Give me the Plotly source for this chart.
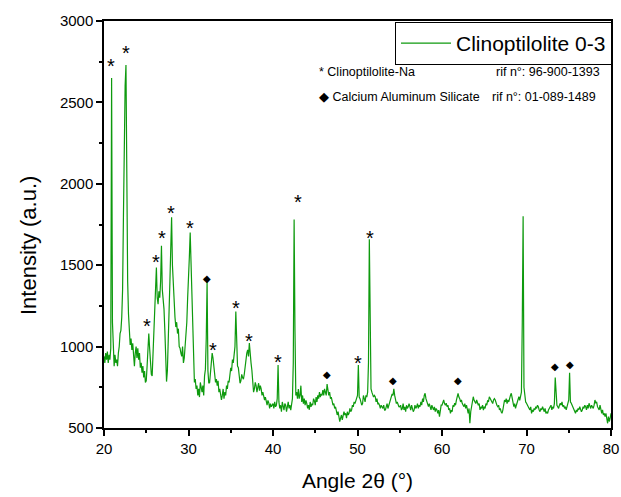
import plotly.graph_objects as go

# ---- data (2θ grid start/step, intensities) ----
angle_start = 20.0
angle_step = 0.1
intensity = [
    # 20.0-20.9
    940, 900, 960, 920, 970, 900, 950, 920, 990, 2650,
    # 21
    1150, 930, 880, 950, 900, 920, 880, 960, 1000, 1080,
    # 22
    1100, 1180, 1350, 1800, 2300, 2600, 2730, 1900, 1400, 1200,
    # 23
    1060, 1010, 1050, 980, 1020, 950, 880, 960, 1000, 930,
    # 24
    990, 920, 960, 870, 900, 840, 880, 810, 850, 780,
    # 25
    790, 880, 980, 1080, 990, 900, 830, 820, 950, 1100,
    # 26
    1200, 1320, 1485, 1300, 1260, 1340, 1300, 1400, 1620, 1350,
    # 27
    1300, 1230, 1100, 950, 785, 850, 1000, 1150, 1400, 1600,
    # 28
    1795, 1500, 1350, 1280, 1180, 1120, 1150, 1080, 1110, 1000,
    # 29
    990, 960, 940, 1000, 900, 930, 990, 1050, 1150, 1300,
    # 30
    1400, 1550, 1700, 1480, 1250, 1050, 820, 780, 800, 740,
    # 31
    760, 700, 740, 690, 780, 750, 720, 760, 700, 820,
    # 32
    860, 1050, 1400, 850, 775, 780, 860, 900, 960, 930,
    # 33
    880, 840, 780, 800, 760, 790, 720, 740, 690, 672,
    # 34
    700, 740, 680, 720, 700, 760, 740, 790, 780, 830,
    # 35
    870, 850, 920, 900, 980, 1000, 1215, 1050, 880, 870,
    # 36
    800, 775, 790, 830, 810, 800, 830, 880, 920, 960,
    # 37
    980, 940, 1022, 980, 900, 855, 780, 720, 740, 780,
    # 38
    760, 720, 750, 775, 730, 760, 740, 700, 720, 680,
    # 39
    672, 690, 660, 640, 670, 655, 620, 650, 630, 640,
    # 40
    650, 620, 660, 630, 640, 680, 887, 660, 620, 640,
    # 41
    600, 660, 630, 610, 650, 640, 600, 630, 660, 620,
    # 42
    640, 610, 650, 680, 900, 1780, 1100, 700, 720, 680,
    # 43
    740, 680, 700, 760, 660, 700, 650, 680, 640, 670,
    # 44
    650, 620, 640, 612, 660, 630, 650, 640, 680, 667,
    # 45
    640, 690, 660, 700, 680, 720, 690, 710, 700, 733,
    # 46
    700, 740, 720, 700, 770, 730, 700, 720, 680, 690,
    # 47
    660, 640, 650, 620, 630, 612, 580, 600, 560, 539,
    # 48
    560, 580, 550, 570, 600, 580, 590, 560, 600, 580,
    # 49
    590, 620, 600, 610, 640, 630, 660, 650, 670, 692,
    # 50
    700, 887, 690, 680, 660, 640, 650, 700, 680, 660,
    # 51
    700, 690, 720, 900, 1660, 950, 740, 720, 700, 690,
    # 52
    700, 692, 660, 680, 650, 652, 640, 620, 640, 631,
    # 53
    620, 640, 610, 611, 630, 650, 620, 640, 660, 680,
    # 54
    690, 710, 700, 740, 700, 680, 650, 660, 640, 631,
    # 55
    630, 640, 610, 620, 650, 611, 630, 600, 640, 620,
    # 56
    630, 650, 631, 610, 640, 620, 600, 611, 640, 620,
    # 57
    630, 650, 620, 640, 631, 660, 640, 680, 660, 700,
    # 58
    713, 680, 660, 640, 631, 650, 620, 611, 640, 620,
    # 59
    611, 630, 600, 620, 611, 590, 610, 570, 600, 640,
    # 60
    640, 660, 672, 650, 640, 652, 631, 640, 611, 620,
    # 61
    590, 610, 600, 640, 630, 652, 640, 670, 690, 713,
    # 62
    690, 680, 660, 672, 650, 640, 631, 650, 620, 640,
    # 63
    610, 590, 620, 530, 600, 640, 660, 692, 670, 660,
    # 64
    650, 672, 660, 640, 650, 611, 630, 620, 640, 610,
    # 65
    631, 620, 650, 640, 670, 660, 692, 680, 670, 660,
    # 66
    650, 672, 680, 672, 650, 640, 631, 640, 611, 620,
    # 67
    600, 590, 610, 640, 672, 660, 680, 650, 672, 660,
    # 68
    690, 700, 713, 680, 660, 631, 650, 620, 640, 660,
    # 69
    680, 692, 670, 700, 720, 1150, 1800, 750, 680, 660,
    # 70
    652, 640, 631, 620, 611, 630, 590, 611, 600, 620,
    # 71
    611, 631, 620, 640, 631, 611, 600, 620, 611, 631,
    # 72
    611, 600, 620, 590, 600, 590, 611, 620, 631, 640,
    # 73
    611, 630, 620, 650, 810, 660, 640, 631, 620, 640,
    # 74
    652, 640, 660, 631, 640, 620, 631, 611, 640, 660,
    # 75
    672, 840, 660, 652, 640, 620, 611, 600, 590, 611,
    # 76
    600, 620, 611, 631, 620, 600, 611, 631, 620, 640,
    # 77
    631, 611, 640, 620, 652, 631, 620, 640, 631, 620,
    # 78
    640, 672, 652, 660, 631, 620, 611, 640, 600, 590,
    # 79
    611, 580, 590, 570, 590, 560, 529, 570, 540, 560,
    # 80
    590,
]
angles = [round(angle_start + i * angle_step, 2) for i in range(len(intensity))]

# reflection markers: (angle, intensity where the symbol sits)
star_angles = [20.83, 22.6, 25.1, 26.15, 26.86, 27.93, 30.18, 32.9, 35.6, 37.16, 40.6, 42.96, 50.06, 51.5]
star_heights = [2748, 2828, 1151, 1544, 1692, 1845, 1753, 1004, 1262, 1059, 930, 1913, 924, 1692]
diamond_angles = [32.19, 46.39, 54.2, 61.9, 73.37, 75.15]
diamond_heights = [1421, 826, 789, 789, 875, 893]

x_ticks = [20, 30, 40, 50, 60, 70, 80]
y_ticks = [500, 1000, 1500, 2000, 2500, 3000]

FONT = "Arial, Liberation Sans, sans-serif"
GREEN = "#0e9a0e"
W, H = 621, 497
L, R, T, B = 104, 611, 21, 428

fig = go.Figure()
fig.add_trace(go.Scatter(
    x=angles, y=intensity, mode="lines", name="Clinoptilolite 0-3",
    line=dict(color=GREEN, width=1.2),
))

annotations = []
for a, h in zip(star_angles, star_heights):
    annotations.append(dict(x=a, y=h, xref="x", yref="y", text="*", showarrow=False,
                            font=dict(family=FONT, size=20, color="black"), yshift=-4))
for a, h in zip(diamond_angles, diamond_heights):
    annotations.append(dict(x=a, y=h, xref="x", yref="y", text="◆", showarrow=False,
                            font=dict(family="DejaVu Sans", size=10, color="black")))

# reference text block (pixel positions converted to paper coords)
text_block = [
    (317, 72, "* Clinoptilolite-Na"),
    (494, 72, "rif n°: 96-900-1393"),
    (317, 97, "◆ Calcium Aluminum Silicate"),
    (490, 97, "rif n°: 01-089-1489"),
]
for px, py, txt in text_block:
    annotations.append(dict(x=(px - L) / (R - L), y=(B - py) / (B - T), xref="paper", yref="paper",
                            text=txt, xanchor="left", yanchor="middle", showarrow=False,
                            font=dict(family=FONT, size=12.5, color="black")))

# y-axis title placed as in the reference (slightly below plot centre)
annotations.append(dict(x=28 / W, y=1 - 246 / H, xref="paper", yref="paper",
                        xanchor="center", yanchor="middle", showarrow=False,
                        text="Intensity (a.u.)", textangle=-90,
                        font=dict(family=FONT, size=22, color="black")))
annotations = [dict(a) for a in annotations]
# last annotation uses container-like placement via paper coords
last = annotations[-1]
last.update(x=(28 - L) / (R - L), y=(B - 246) / (B - T))

fig.update_layout(
    width=W, height=H,
    margin=dict(l=L, r=W - R, t=T, b=H - B, autoexpand=False),
    paper_bgcolor="white", plot_bgcolor="white",
    font=dict(family=FONT, color="black"),
    showlegend=True,
    legend=dict(xref="container", yref="container", x=612 / W, y=1 - 22 / H,
                xanchor="right", yanchor="top",
                bordercolor="black", borderwidth=1, bgcolor="white",
                font=dict(family=FONT, size=21, color="black"),
                itemwidth=50, tracegroupgap=0),
    annotations=annotations,
    xaxis=dict(range=[20, 80], tickvals=x_ticks, ticks="outside", ticklen=6, tickwidth=1.5,
               tickcolor="black", showline=True, linecolor="black", linewidth=1.5, mirror=True,
               showgrid=False, zeroline=False, automargin=False,
               tickfont=dict(family=FONT, size=15, color="black"),
               minor=dict(dtick=5, ticks="outside", ticklen=3, tickcolor="black", tickwidth=1.5),
               title=dict(text="Angle 2θ (°)", font=dict(family=FONT, size=21, color="black"), standoff=18)),
    yaxis=dict(range=[500, 3000], tickvals=y_ticks, ticks="outside", ticklen=6, tickwidth=1.5,
               tickcolor="black", showline=True, linecolor="black", linewidth=1.5, mirror=True,
               showgrid=False, zeroline=False, automargin=False,
               tickfont=dict(family=FONT, size=15, color="black"),
               minor=dict(dtick=250, ticks="outside", ticklen=3, tickcolor="black", tickwidth=1.5)),
)

fig.write_html("out.html")
